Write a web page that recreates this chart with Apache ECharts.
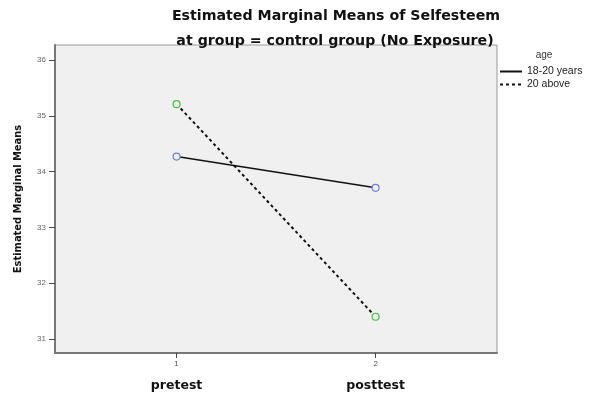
<!DOCTYPE html>
<html>
<head>
<meta charset="utf-8">
<script src="https://cdn.jsdelivr.net/npm/echarts@6/dist/echarts.min.js"></script>
<style>html,body{margin:0;padding:0;background:#fff}#c{width:591px;height:394px}</style>
</head>
<body>
<div id="c"></div>
<script>
const categories = ['pretest', 'posttest'];
const tickLabels = ['1', '2'];
const xPositions = [1, 2];
const seriesNames = ['18-20 years', '20 above'];
const young = [34.27, 33.71];
const older = [35.21, 31.40];
const yTicks = [31, 32, 33, 34, 35, 36];

const chart = echarts.init(document.getElementById('c'));
const pts = arr => arr.map((v, i) => [xPositions[i], v]);
chart.setOption({
  animation: false,
  backgroundColor: '#fff',
  title: [
    { text: 'Estimated Marginal Means of Selfesteem', left: 331, top: 4, textAlign: 'center',
      textStyle: { fontFamily: 'DejaVu Sans', fontSize: 14.2, fontWeight: 'bold', color: '#111' } },
    { text: 'at group = control group (No Exposure)', left: 330, top: 29, textAlign: 'center',
      textStyle: { fontFamily: 'DejaVu Sans', fontSize: 14.2, fontWeight: 'bold', color: '#111' } },
    { text: 'age', left: 539, top: 45, textAlign: 'center',
      textStyle: { fontFamily: 'Liberation Sans', fontSize: 10, fontWeight: 'normal', color: '#333' } }
  ],
  legend: {
    left: 499, top: 66, padding: 0, orient: 'vertical', itemGap: 2, itemWidth: 22, itemHeight: 8,
    data: seriesNames,
    itemStyle: { opacity: 0 },
    textStyle: { fontFamily: 'Liberation Sans', fontSize: 10.5, color: '#222' }
  },
  grid: { left: 55, top: 45, right: 94, bottom: 41, show: true, backgroundColor: '#f0f0f0', borderColor: '#999', borderWidth: 1 },
  xAxis: {
    type: 'value', min: 0.389, max: 2.61,
    splitLine: { show: false },
    axisLine: { show: true, lineStyle: { color: '#777', width: 2 } },
    axisTick: { show: true, customValues: xPositions, length: 5, lineStyle: { color: '#444' } },
    axisLabel: {
      customValues: xPositions, margin: 5,
      formatter: v => { const i = xPositions.indexOf(v); return '{n|' + tickLabels[i] + '}\n{c|' + categories[i] + '}'; },
      rich: {
        n: { fontFamily: 'Liberation Sans', fontSize: 8, color: '#555', lineHeight: 12 },
        c: { fontFamily: 'DejaVu Sans', fontSize: 12.5, fontWeight: 'bold', color: '#111', lineHeight: 31 }
      }
    }
  },
  yAxis: {
    type: 'value', min: 30.75, max: 36.27,
    name: 'Estimated Marginal Means', nameLocation: 'middle', nameGap: 31, nameRotate: 90,
    nameTextStyle: { fontFamily: 'DejaVu Sans Condensed', fontSize: 11, fontWeight: 'bold', color: '#111' },
    splitLine: { show: false },
    axisLine: { show: true, lineStyle: { color: '#777', width: 2 } },
    axisTick: { show: true, customValues: yTicks, length: 6, lineStyle: { color: '#444' } },
    axisLabel: { customValues: yTicks, margin: 9, fontFamily: 'Liberation Sans', fontSize: 8, color: '#666' }
  },
  series: [
    { name: seriesNames[0], type: 'line', data: pts(young), symbol: 'circle', symbolSize: 7,
      lineStyle: { color: '#111', width: 1.5, type: 'solid' },
      itemStyle: { color: '#f0f0f0', borderColor: '#7080d8', borderWidth: 1.2 } },
    { name: seriesNames[1], type: 'line', data: pts(older), symbol: 'circle', symbolSize: 7,
      lineStyle: { color: '#111', width: 2, type: [3, 3] },
      itemStyle: { color: '#f0f0f0', borderColor: '#40c040', borderWidth: 1.2 } }
  ]
});
</script>
</body>
</html>
